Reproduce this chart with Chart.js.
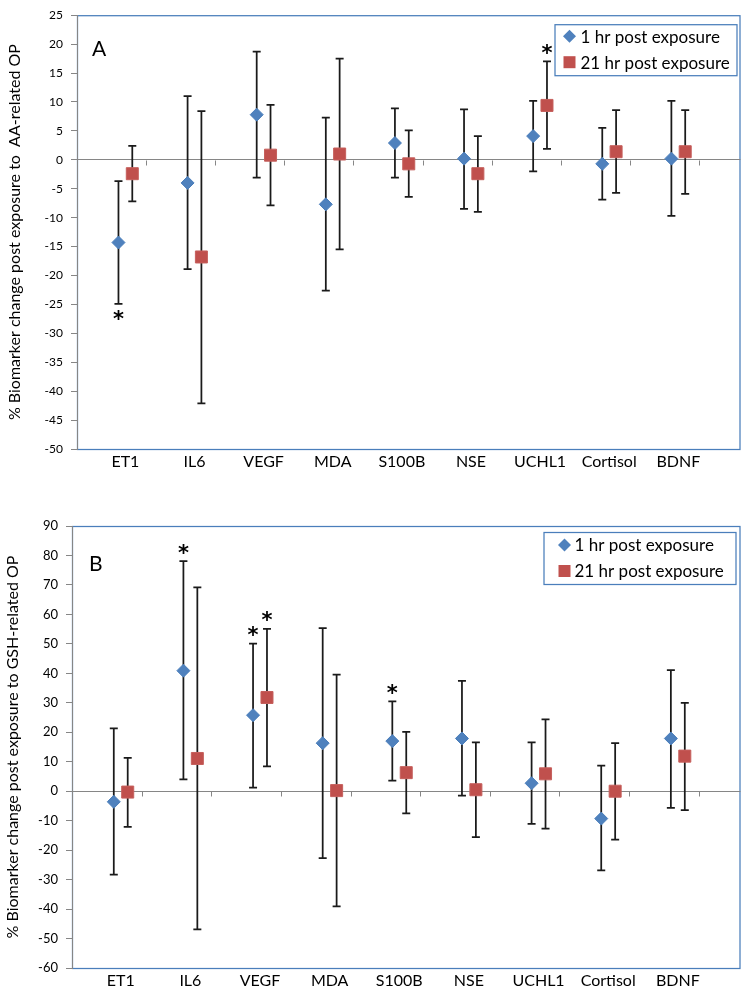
<!DOCTYPE html>
<html>
<head>
<meta charset="utf-8">
<script src="https://cdn.jsdelivr.net/npm/chart.js@4.4.1/dist/chart.umd.min.js"></script>
<style>
  html, body { margin: 0; padding: 0; background: #fff; }
  #wrap { position: relative; width: 750px; height: 995px; }
  #chartA { position: absolute; left: 0; top: 0; }
  #chartB { position: absolute; left: 0; top: 490px; }
</style>
</head>
<body>
<div id="wrap">
  <canvas id="chartA" width="750" height="490"></canvas>
  <canvas id="chartB" width="750" height="505"></canvas>
</div>
<script>
// categorias (eixo X)
const categorias = ['ET1', 'IL6', 'VEGF', 'MDA', 'S100B', 'NSE', 'UCHL1', 'Cortisol', 'BDNF'];
const series = ['1 hr post exposure', '21 hr post exposure'];

// Painel A - AA-related OP
const a1hr    = [-14.3, -4.0, 7.8, -7.7, 2.9, 0.2, 4.1, -0.7, 0.2];
const a1hrHi  = [-3.7, 11.0, 18.7, 7.3, 8.9, 8.7, 10.2, 5.5, 10.2];
const a1hrLo  = [-24.9, -18.9, -3.1, -22.6, -3.1, -8.5, -2.0, -6.9, -9.7];
const a21hr   = [-2.4, -16.8, 0.8, 1.0, -0.7, -2.4, 9.4, 1.4, 1.4];
const a21hrHi = [2.4, 8.4, 9.5, 17.5, 5.1, 4.1, 17.0, 8.6, 8.6];
const a21hrLo = [-7.2, -42.1, -7.9, -15.5, -6.4, -9.0, 1.9, -5.7, -5.9];
// asteriscos: [categoria, serie, lado]
const aEstrelas = [[0, 0, 'below'], [6, 1, 'above']];

// Painel B - GSH-related OP
const b1hr    = [-3.6, 40.9, 25.8, 16.3, 17.0, 17.9, 2.7, -9.3, 17.9];
const b1hrHi  = [21.3, 78.1, 50.1, 55.3, 30.5, 37.4, 16.6, 8.7, 41.1];
const b1hrLo  = [-28.3, 4.0, 1.2, -22.7, 3.6, -1.5, -11.1, -26.9, -5.7];
const b21hr   = [-0.3, 11.1, 31.8, 0.2, 6.3, 0.5, 5.9, 0.0, 11.9];
const b21hrHi = [11.3, 69.2, 55.1, 39.6, 20.1, 16.6, 24.4, 16.3, 30.0];
const b21hrLo = [-12.1, -46.9, 8.4, -39.1, -7.5, -15.6, -12.7, -16.4, -6.4];
const bEstrelas = [[1, 0, 'above'], [2, 0, 'above'], [2, 1, 'above'], [4, 0, 'above']];

const AZUL = '#4F81BD';
const VERMELHO = '#C0504D';
const MOLDURA = '#4A7EBB';
const CINZA = '#868686';
const FONTE = 'Lato';

// barras de erro (desenhadas antes dos marcadores)
const barrasErro = {
  id: 'barrasErro',
  beforeDatasetsDraw(chart) {
    const ctx = chart.ctx;
    const y = chart.scales.y;
    ctx.save();
    ctx.strokeStyle = '#1a1a1a';
    ctx.lineWidth = 1.75;
    chart.data.datasets.forEach((ds, i) => {
      chart.getDatasetMeta(i).data.forEach((pt, j) => {
        const topo = y.getPixelForValue(ds.errHi[j]);
        const base = y.getPixelForValue(ds.errLo[j]);
        ctx.beginPath();
        ctx.moveTo(pt.x, topo); ctx.lineTo(pt.x, base);
        ctx.moveTo(pt.x - 4, topo); ctx.lineTo(pt.x + 4, topo);
        ctx.moveTo(pt.x - 4, base); ctx.lineTo(pt.x + 4, base);
        ctx.stroke();
      });
    });
    // marcas no eixo zero
    const x = chart.scales.x;
    const y0 = Math.round(y.getPixelForValue(0)) + 0.5;
    ctx.strokeStyle = CINZA;
    ctx.lineWidth = 1;
    for (let k = 1; k <= 9; k++) {
      const px = Math.round(x.getPixelForValue(k + 0.3)) + 0.5;
      ctx.beginPath();
      ctx.moveTo(px, y0); ctx.lineTo(px, y0 + 5);
      ctx.stroke();
    }
    ctx.restore();
  }
};

// moldura azul da area do grafico
const moldura = {
  id: 'moldura',
  beforeDraw(chart) {
    const a = chart.chartArea;
    const ctx = chart.ctx;
    ctx.save();
    ctx.strokeStyle = MOLDURA;
    ctx.lineWidth = 1.25;
    ctx.strokeRect(a.left + 0.5, a.top + 0.5, a.right - a.left - 1, a.bottom - a.top);
    ctx.restore();
  }
};

function desenhaMarcador(ctx, tipo, x, y) {
  ctx.beginPath();
  if (tipo === 'rectRot') {
    ctx.moveTo(x, y - 6.5); ctx.lineTo(x + 6.5, y); ctx.lineTo(x, y + 6.5); ctx.lineTo(x - 6.5, y);
    ctx.fillStyle = AZUL;
  } else {
    ctx.rect(x - 6, y - 6, 12, 12);
    ctx.fillStyle = VERMELHO;
  }
  ctx.closePath();
  ctx.fill();
}

// legenda, letra do painel e asteriscos
const extras = {
  id: 'extras',
  afterDatasetsDraw(chart, args, opts) {
    const a = chart.chartArea;
    const ctx = chart.ctx;
    const y = chart.scales.y;
    ctx.save();
    // asteriscos
    ctx.fillStyle = '#000';
    ctx.font = 'bold 21px "DejaVu Sans"';
    ctx.textAlign = 'center';
    ctx.textBaseline = 'middle';
    opts.estrelas.forEach(([cat, s, lado]) => {
      const ds = chart.data.datasets[s];
      const pt = chart.getDatasetMeta(s).data[cat];
      const py = lado === 'above' ? y.getPixelForValue(ds.errHi[cat]) - 7 : y.getPixelForValue(ds.errLo[cat]) + 17;
      ctx.fillText('*', pt.x, py);
    });
    // letra
    ctx.textAlign = 'left';
    ctx.textBaseline = 'alphabetic';
    ctx.font = '21px ' + FONTE;
    ctx.fillText(opts.letra, a.left + opts.letraDx, a.top + opts.letraDy);
    // caixa da legenda
    const L = opts.legenda;
    const bx = a.right - L.right - L.w;
    const by = a.top + L.top;
    ctx.fillStyle = '#fff';
    ctx.fillRect(bx, by, L.w, L.h);
    ctx.strokeStyle = MOLDURA;
    ctx.lineWidth = 1.25;
    ctx.strokeRect(bx + 0.5, by + 0.5, L.w, L.h);
    ctx.font = '17px ' + FONTE;
    ctx.textBaseline = 'middle';
    chart.data.datasets.forEach((ds, i) => {
      const ry = by + L.linha1 + i * L.passo;
      desenhaMarcador(ctx, ds.pointStyle, bx + L.mx, ry);
      ctx.fillStyle = '#000';
      ctx.fillText(ds.label, bx + L.tx, ry + 1);
    });
    ctx.restore();
  }
};

function gerarGrafico(canvasId, d, cfg) {
  const ctx = document.getElementById(canvasId).getContext('2d');
  const pontos = (vals, dx) => vals.map((v, i) => ({ x: i + 1 + dx, y: v }));

  const dados = {
    datasets: [{
      label: series[0],
      data: pontos(d.v1, -0.1),
      errHi: d.hi1,
      errLo: d.lo1,
      pointStyle: 'rectRot',
      pointRadius: 6.5,
      backgroundColor: AZUL,
      borderColor: '#4A7EBB',
      borderWidth: 1
    }, {
      label: series[1],
      data: pontos(d.v2, 0.1),
      errHi: d.hi2,
      errLo: d.lo2,
      pointStyle: 'rect',
      pointRadius: 8.5,
      backgroundColor: VERMELHO,
      borderColor: '#C6605D',
      borderWidth: 1
    }]
  };

  return new Chart(ctx, {
    type: 'scatter',
    data: dados,
    plugins: [moldura, barrasErro, extras],
    options: {
      responsive: false,
      animation: false,
      layout: { padding: cfg.padding },
      plugins: {
        legend: { display: false },
        tooltip: { enabled: false },
        extras: {
          estrelas: d.estrelas,
          letra: cfg.letra,
          letraDx: cfg.letraDx,
          letraDy: cfg.letraDy,
          legenda: cfg.legenda
        }
      },
      scales: {
        x: {
          type: 'linear',
          min: 0.3,
          max: 9.9,
          grid: { display: false, drawTicks: false },
          border: { display: false },
          afterBuildTicks: (s) => { s.ticks = categorias.map((c, i) => ({ value: i + 1 })); },
          afterFit: (s) => { s.height = cfg.xAltura; },
          ticks: {
            autoSkip: false,
            maxRotation: 0,
            padding: 3,
            color: '#000',
            font: { family: FONTE, size: 16 },
            callback: (v) => categorias[Math.round(v) - 1]
          }
        },
        y: {
          min: cfg.yMin,
          max: cfg.yMax,
          afterFit: (s) => { s.width = cfg.yLargura; },
          ticks: {
            stepSize: cfg.yPasso,
            padding: 8,
            color: '#000',
            font: { family: FONTE, size: cfg.yFonte }
          },
          grid: {
            color: (c) => (c.tick && c.tick.value === 0 ? CINZA : 'rgba(0,0,0,0)'),
            tickColor: CINZA,
            tickLength: 6
          },
          border: { color: CINZA },
          title: {
            display: true,
            text: cfg.titulo,
            color: '#000',
            padding: { top: cfg.tituloPad },
            font: { family: FONTE, size: 16 }
          }
        }
      }
    }
  });
}

gerarGrafico('chartA',
  { v1: a1hr, hi1: a1hrHi, lo1: a1hrLo, v2: a21hr, hi2: a21hrHi, lo2: a21hrLo, estrelas: aEstrelas },
  {
    padding: { top: 14, right: 8, bottom: 11, left: 0 },
    yLargura: 77, xAltura: 30,
    yMin: -50, yMax: 25, yPasso: 5, yFonte: 12,
    titulo: '% Biomarker change post exposure to  AA-related OP', tituloPad: 5,
    letra: 'A', letraDx: 15, letraDy: 41,
    legenda: { w: 182, h: 51, right: 4, top: 9, mx: 15, tx: 26, linha1: 12, passo: 26 }
  });

gerarGrafico('chartB',
  { v1: b1hr, hi1: b1hrHi, lo1: b1hrLo, v2: b21hr, hi2: b21hrHi, lo2: b21hrLo, estrelas: bEstrelas },
  {
    padding: { top: 36, right: 5, bottom: 0, left: 0 },
    yLargura: 72, xAltura: 27,
    yMin: -60, yMax: 90, yPasso: 10, yFonte: 13,
    titulo: '% Biomarker change post exposure to GSH-related OP', tituloPad: 3,
    letra: 'B', letraDx: 17, letraDy: 45,
    legenda: { w: 192, h: 52, right: 5, top: 6, mx: 21, tx: 31, linha1: 13, passo: 26 }
  });
</script>
</body>
</html>
